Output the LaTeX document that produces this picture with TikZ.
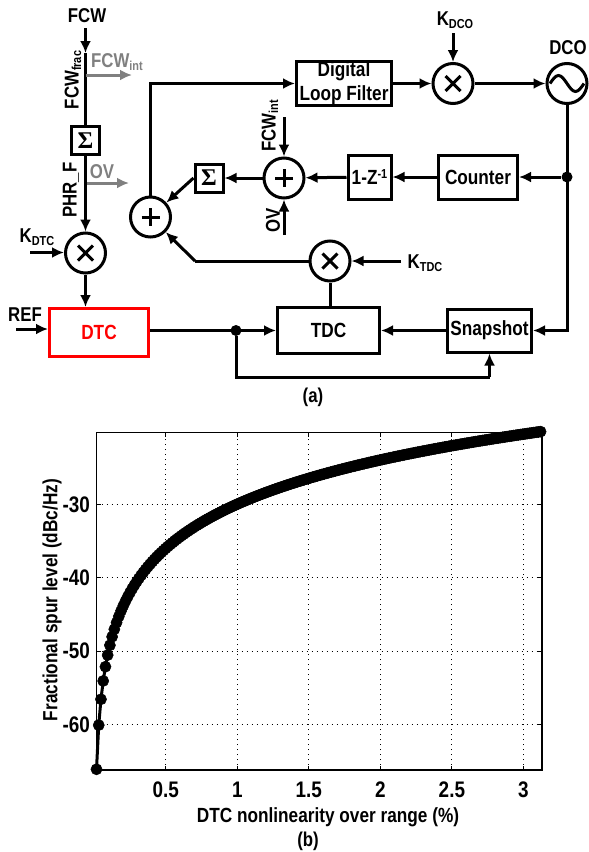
\documentclass[tikz,border=0pt]{standalone}
\usepackage{fontspec}
\setmainfont{Liberation Sans}[FakeStretch=0.84]
\newfontfamily\sigmafont{Liberation Serif}
\usepackage{pgfplots}
\pgfplotsset{compat=1.18}
\usetikzlibrary{arrows.meta,positioning,calc}
\newcommand{\lowsub}[1]{{\fontsize{13}{13}\selectfont\raisebox{-2.5pt}{#1}}}
\newcommand{\highsup}[1]{{\fontsize{13}{13}\selectfont\raisebox{6pt}{#1}}}

\begin{document}
\begin{tikzpicture}[
        x=1pt, y=-1pt,
        lab/.style={font=\bfseries\fontsize{20}{20}\selectfont, inner sep=0pt, align=center},
        graylab/.style={lab, text=gray},
        axlab/.style={lab, font=\bfseries\fontsize{20.5}{20.5}\selectfont},
        block/.style={draw, line width=3pt, inner sep=0pt, align=center, font=\bfseries\fontsize{20.5}{24}\selectfont},
        sigmabox/.style={draw, line width=3pt, minimum width=28pt, minimum height=28pt, inner sep=0pt, font=\sigmafont\bfseries\fontsize{24}{24}\selectfont},
        round/.style={draw, circle, line width=3pt, minimum size=40pt, inner sep=0pt},
        multnode/.style={round, path picture={
            \draw[line width=3pt, shift={(path picture bounding box.center)}] (-7.5,-7.5) -- (7.5,7.5) (-7.5,7.5) -- (7.5,-7.5);}},
        plusnode/.style={round, path picture={
            \draw[line width=3pt, shift={(path picture bounding box.center)}] (-9,0) -- (9,0) (0,-9) -- (0,9);}},
        sinenode/.style={round, path picture={
            \draw[line width=3pt, shift={(path picture bounding box.center)}] (-17,0) sin (-8.5,-8) cos (0,0) sin (8.5,8) cos (17,0);}},
        sig/.style={line width=3pt, -{Latex[length=12pt,width=11pt]}},
        wire/.style={line width=3pt},
        graysig/.style={sig, gray},
        junction/.style={circle, fill=black, minimum size=11pt, inner sep=0pt}
    ]
    \useasboundingbox (0,0) rectangle (589,852);

    \node[lab] (fcw) at (87,16) {FCW};
    \node[sigmabox] (sig1) at (85.5,140.5) {Σ};
    \node[multnode] (mdtc) at (85.5,253) {};
    \node[block, draw=red, text=red, minimum width=99pt, minimum height=48pt] (dtc) at (99,332.5) {DTC};
    \node[lab] (ref) at (25,315) {REF};
    \node[lab] (kdtc) at (37,237) {K\lowsub{DTC}};

    \node[lab, rotate=90] (fcwfrac) at (73,80) {FCW\lowsub{frac}};
    \node[lab, rotate=90] (phrf) at (71,190) {PHR\_F};
    \node[graylab] (fcwintg) at (117,62) {FCW\lowsub{int}};
    \node[graylab] (ovg) at (102,172) {OV};

    \node[plusnode] (plus1) at (150.5,217) {};
    \node[sigmabox] (sig2) at (209,178) {Σ};
    \node[plusnode] (plus2) at (284,178) {};
    \node[block, minimum width=43pt, minimum height=44pt] (zinv) at (369.5,177) {1-Z\highsup{-1}};
    \node[block, minimum width=79pt, minimum height=44pt] (counter) at (478,177) {Counter};
    \node[block, minimum width=95pt, minimum height=43pt] (dlf) at (344,83.5) {Digital\\Loop Filter};
    \node[multnode] (mdco) at (453,83.5) {};
    \node[sinenode] (dco) at (567,83.5) {};
    \node[lab] (kdco) at (455,20) {K\lowsub{DCO}};
    \node[lab] (dcolab) at (568,48) {DCO};
    \node[lab, rotate=90] (fcwint) at (270,126) {FCW\lowsub{int}};
    \node[lab, rotate=90] (ov) at (273,220) {OV};

    \node[multnode] (mtdc) at (330,261) {};
    \node[lab] (ktdc) at (425,263) {K\lowsub{TDC}};
    \node[block, minimum width=102pt, minimum height=46pt] (tdc) at (328.5,330.5) {TDC};
    \node[block, minimum width=84pt, minimum height=43pt] (snap) at (489.5,330.5) {Snapshot};
    \node[junction] (jctr) at (dco |- counter) {};
    \node[junction] (jtdc) at (236,330.5) {};
    \node[lab] (cap1) at (313,397) {(a)};

    \coordinate (fcwtop) at (85.5,28);
    \coordinate (fcwhead) at (85.5,53);
    \coordinate (tap1) at (85.5,75);
    \coordinate (tap2) at (85.5,183);
    \coordinate (gray1) at (132,75);
    \coordinate (gray2) at (129,183);
    \coordinate (kdtcin) at (30,252.5);
    \coordinate (refin) at (16,329);
    \coordinate (kdcoin) at (453,33);
    \coordinate (fcwin) at (284,117);
    \coordinate (ovin) at (284,235);
    \coordinate (ktdcin) at (401,261);
    \coordinate (bendtdc) at (195,261);
    \coordinate (bendsnap) at (236,377);
    \coordinate (axisorigin) at (96.5,770);

    \draw[sig] (fcwtop) -- (fcwhead);
    \draw[wire] (fcwhead) -- (sig1);
    \draw[graysig] (tap1) -- (gray1);
    \draw[graysig] (tap2) -- (gray2);
    \draw[sig] (sig1) -- (mdtc);
    \draw[sig] (kdtcin) -- (kdtcin -| mdtc.west);
    \draw[sig] (mdtc) -- (mdtc |- dtc.north);
    \draw[sig] (refin) -- (refin -| dtc.west);
    \draw[sig] (dtc.east |- jtdc) -- (tdc);
    \draw[wire] (jtdc) |- (bendsnap -| snap);
    \draw[sig] (bendsnap -| snap) -- (snap);
    \draw[sig] (snap) -- (tdc);
    \draw[wire] (tdc.north -| mtdc) -- (mtdc);
    \draw[sig] (ktdcin) -- (mtdc);
    \draw[wire] (mtdc) -- (bendtdc);
    \draw[sig] (bendtdc) -- (plus1);
    \draw[sig] (dco) |- (snap);
    \draw[sig] (jctr) -- (counter);
    \draw[sig] (counter) -- (zinv);
    \draw[sig] (zinv) -- (plus2);
    \draw[sig] (plus2) -- (sig2);
    \draw[sig] (sig2.west) -- (plus1);
    \draw[sig] (fcwin) -- (plus2);
    \draw[sig] (ovin) -- (plus2);
    \draw[sig] (plus1) |- (dlf);
    \draw[sig] (dlf) -- (mdco);
    \draw[sig] (kdcoin) -- (mdco);
    \draw[sig] (mdco) -- (dco);

    \begin{axis}[
        at={(axisorigin)}, anchor=south west,
        scale only axis, width=445.5pt, height=337.5pt,
        xmin=0.0156, xmax=3.13, ymin=-66.2, ymax=-20.2,
        xtick={0.5,1,1.5,2,2.5,3}, xticklabels={0.5,1,1.5,2,2.5,3},
        ytick={-60,-50,-40,-30}, yticklabels={-60,-50,-40,-30},
        tick label style={font=\bfseries\fontsize{22.5}{22.5}\selectfont},
        xticklabel style={yshift=-8pt},
        yticklabel style={xshift=-3pt},
        grid=major, major grid style={black, dash pattern=on 1pt off 4pt, line width=0.9pt},
        major tick length=4pt, tick style={black, line width=0.8pt},
        axis line style={line width=1.1pt},
        clip=false
    ]
    \addplot[black, line width=3pt, mark=*, mark size=5.6pt, mark options={line width=0.5pt, fill=black},
        domain=1:200, samples=200] ({x*0.0156},{20*log10(x)-66.1});
    \end{axis}

    \node[axlab, rotate=90] (ylab) at (52,600) {Fractional spur level (dBc/Hz)};
    \node[axlab] (xlab) at (328,817) {DTC nonlinearity over range (\%)};
    \node[lab] (cap2) at (308,841) {(b)};
\end{tikzpicture}
\end{document}
